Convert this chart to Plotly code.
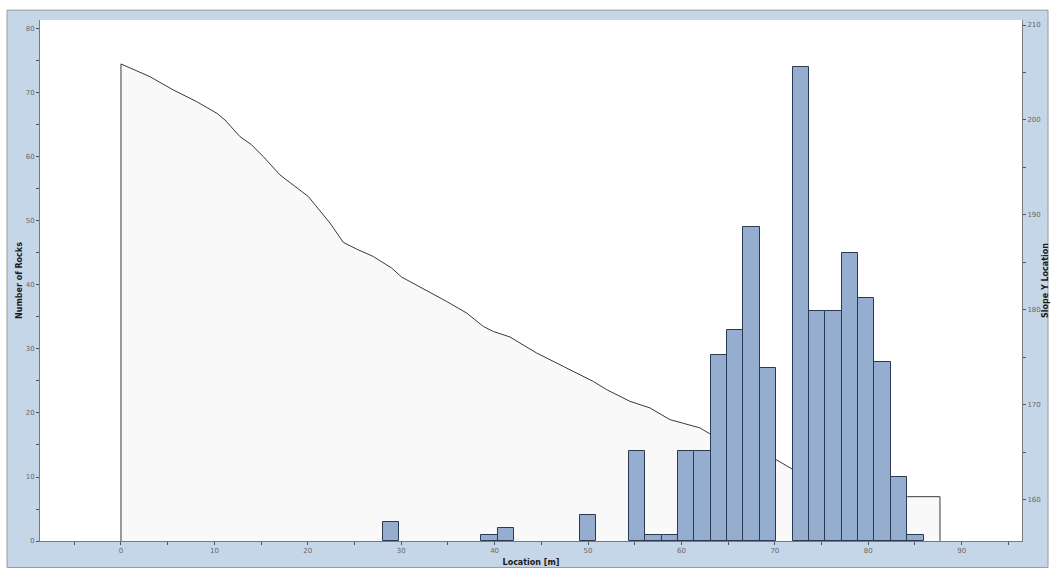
import plotly.graph_objects as go

# ---- data ----
slope_length = 87.68          # m, end of slope / histogram range
n_bins = 50
# rock counts per bin (bin index -> count); bins not listed are empty
bin_index = [16, 22, 23, 28, 31, 32, 33, 34, 35, 36, 37, 38, 39,
             41, 42, 43, 44, 45, 46, 47, 48]
rock_counts = [3, 1, 2, 4, 14, 1, 1, 14, 14, 29, 33, 49, 27,
               74, 36, 36, 45, 38, 28, 10, 1]

# slope profile (location [m], slope Y location)
slope_x = [0, 3.1, 5.6, 8.1, 10.25, 11.13, 12.74, 13.99, 15.23, 17.02, 19.16,
           20.05, 22.38, 23.8, 25.23, 27.01, 28.98, 30.05, 34.87, 37.01, 38.79,
           39.86, 41.64, 44.5, 47.35, 50.56, 51.99, 54.49, 56.63, 58.77, 61.98,
           63.05, 70.12, 71.83, 75.0, 78.0, 81.0, 84.18, 87.68]
slope_y = [205.9, 204.56, 203.16, 201.93, 200.71, 200.0, 198.24, 197.37, 196.14,
           194.21, 192.63, 191.93, 189.13, 187.1, 186.39, 185.61, 184.39, 183.44,
           180.87, 179.65, 178.24, 177.71, 177.13, 175.44, 174.03, 172.45, 171.58,
           170.35, 169.65, 168.42, 167.55, 166.92, 164.21, 163.23, 162.3, 161.4,
           160.7, 160.3, 160.3]
slope_base = 155.6

x_ticks = [0, 10, 20, 30, 40, 50, 60, 70, 80, 90]

# ---- derived ----
bin_w = slope_length / n_bins
bar_x = [(i + 0.5) * bin_w for i in bin_index]

poly_x = [slope_x[0]] + slope_x + [slope_x[-1]]
poly_y = [slope_base] + slope_y + [slope_base]

FONT = "DejaVu Sans"
BLUE_BG = "#c6d6e9"

fig = go.Figure()

fig.add_trace(go.Scatter(
    x=poly_x, y=poly_y, mode="lines", fill="toself",
    fillcolor="#f9f9f9", line=dict(color="#3a3a3a", width=1),
    yaxis="y", showlegend=False, hoverinfo="skip"))

fig.add_trace(go.Bar(
    x=bar_x, y=rock_counts, width=bin_w, yaxis="y2",
    marker=dict(color="#95aed0", line=dict(color="#2b3a50", width=1)),
    showlegend=False))

tickfont = dict(family=FONT, size=7, color="#666666")
titlefont = dict(family=FONT, size=8, color="#1a1a1a")

fig.update_layout(
    width=1053, height=572,
    margin=dict(l=40, r=31, t=20, b=31, pad=0, autoexpand=False),
    paper_bgcolor="white",
    plot_bgcolor="white",
    bargap=0,
    xaxis=dict(
        range=[-8.67, 96.46], tickvals=x_ticks, showgrid=False, zeroline=False,
        showline=True, linecolor="#7a7a7a", linewidth=1,
        ticks="outside", ticklen=3, tickcolor="#555555",
        minor=dict(dtick=5, ticks="outside", ticklen=3, tickcolor="#555555"),
        tickfont=tickfont,
        title=dict(text="<b>Location [m]</b>", font=titlefont, standoff=4),
    ),
    yaxis=dict(
        side="right", range=[155.63, 210.53], dtick=10, showgrid=False,
        zeroline=False, showline=True, linecolor="#7a7a7a", linewidth=1,
        ticks="outside", ticklen=3, tickcolor="#555555",
        minor=dict(dtick=5, ticks="outside", ticklen=3, tickcolor="#555555"),
        tickfont=tickfont,
        title=dict(text="<b>Slope Y Location</b>", font=titlefont, standoff=1),
    ),
    yaxis2=dict(
        overlaying="y", side="left", range=[0, 81.4], dtick=10, showgrid=False,
        zeroline=False, showline=True, linecolor="#7a7a7a", linewidth=1,
        ticks="outside", ticklen=3, tickcolor="#555555",
        minor=dict(dtick=5, ticks="outside", ticklen=3, tickcolor="#555555"),
        tickfont=tickfont,
        title=dict(text="<b>Number of Rocks</b>", font=titlefont, standoff=1),
    ),
    shapes=[
        dict(type="rect", xref="paper", yref="paper", layer="below",
             x0=-0.0336, x1=1.0265, y0=-0.0508, y1=1.019,
             fillcolor=BLUE_BG, line=dict(color="#9a9a9a", width=1)),
        dict(type="rect", xref="paper", yref="paper", layer="below",
             x0=0, x1=1, y0=0, y1=1,
             fillcolor="white", line=dict(width=0)),
    ],
)

fig.write_html("out.html",
               config={"displayModeBar": False},
               post_script="document.body.style.margin='0px';"
                           "document.body.style.overflow='hidden';")
